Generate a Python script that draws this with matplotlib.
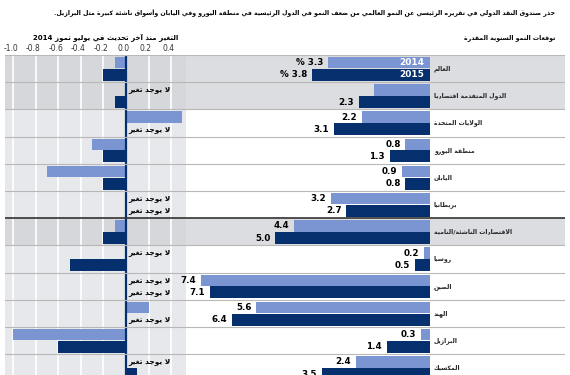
import re
import matplotlib
matplotlib.use('Agg')
import matplotlib.pyplot as plt

plt.rcParams['font.family'] = ['DejaVu Sans']

# data
categories = ['العالم', 'الدول المتقدمة اقتصاديا', 'الولايات المتحدة', 'منطقة اليورو',
              'اليابان', 'بريطانيا', 'الاقتصادات الناشئة/النامية', 'روسيا', 'الصين',
              'الهند', 'البرازيل', 'المكسيك']
growth_2014 = [3.3, 1.8, 2.2, 0.8, 0.9, 3.2, 4.4, 0.2, 7.4, 5.6, 0.3, 2.4]
growth_2015 = [3.8, 2.3, 3.1, 1.3, 0.8, 2.7, 5.0, 0.5, 7.1, 6.4, 1.4, 3.5]
change_2014 = [-0.1, 0.0, 0.5, -0.3, -0.7, 0.0, -0.1, 0.0, 0.0, 0.2, -1.0, 0.0]
change_2015 = [-0.2, -0.1, 0.0, -0.2, -0.2, 0.0, -0.2, -0.5, 0.0, 0.0, -0.6, 0.1]
show_label_2014 = [True, False, True, True, True, True, True, True, True, True, True, True]
gray_rows = [0, 1, 6]
change_ticks = [-1.0, -0.8, -0.6, -0.4, -0.2, 0.0, 0.2, 0.4]

title = ('حذر صندوق النقد الدولي في تقريره الرئيسي عن النمو العالمي من ضعف النمو '
         'في الدول الرئيسية في منطقة اليورو وفي اليابان وأسواق ناشئة كبيرة مثل البرازيل.')
right_header = 'توقعات النمو السنوية المقدرة'
left_header = 'التغير منذ آخر تحديث في يوليو تموز 2014'
no_change = 'لا يوجد تغير'

LIGHT = '#7a95d2'
DARK = '#062f6e'
ROW_GRAY = '#dcdde0'
PANEL_GRAY = '#e7e8eb'
PANEL_DARK = '#d6d7db'


# matplotlib has no arabic shaping, so do a small one by hand
LETTERS = 'ءآأؤإئابةتثجحخدذرزسشصضطظعغفقكلمنهوىي'
COUNTS = [1, 2, 2, 2, 2, 4, 2, 4, 2, 4, 4, 4, 4, 4, 2, 2, 2, 2, 4, 4,
          4, 4, 4, 4, 4, 4, 4, 4, 4, 4, 4, 4, 4, 2, 2, 4]
FORMS = {}
code = 0xFE80
for ch, n in zip(LETTERS, COUNTS):
    FORMS[ch] = [chr(code + k) for k in range(n)]
    code += n
LAM_ALEF = {'آ': 0xFEF5, 'أ': 0xFEF7, 'إ': 0xFEF9, 'ا': 0xFEFB}


def joins_next(c):
    return c in FORMS and len(FORMS[c]) == 4


def joins(c):
    return c in FORMS and len(FORMS[c]) > 1


def rtl(text):
    out = []
    i = 0
    while i < len(text):
        c = text[i]
        if c not in FORMS:
            out.append(c)
            i += 1
            continue
        prev = text[i - 1] if i > 0 else ''
        link_prev = joins_next(prev) and joins(c)
        if c == 'ل' and i + 1 < len(text) and text[i + 1] in LAM_ALEF:
            out.append(chr(LAM_ALEF[text[i + 1]] + (1 if link_prev else 0)))
            i += 2
            continue
        nxt = text[i + 1] if i + 1 < len(text) else ''
        link_next = joins_next(c) and joins(nxt)
        f = FORMS[c]
        if link_prev and link_next:
            out.append(f[3])
        elif link_prev:
            out.append(f[1])
        elif link_next:
            out.append(f[2])
        else:
            out.append(f[0])
        i += 1
    s = ''.join(out)[::-1]
    return re.sub(r'[0-9.]+', lambda m: m.group()[::-1], s)


W, H = 570, 375
fig = plt.figure(figsize=(W / 100, H / 100), dpi=100)
renderer = fig.canvas.get_renderer()


def fit(txt, width_px):
    # scale a text so that it takes the width it has in the reference
    w = txt.get_window_extent(renderer).width
    txt.set_fontsize(txt.get_fontsize() * width_px / w)
    return txt.get_fontsize()


top = 55
row_h = 27.2
n = len(categories)
ax_bottom = 1 - (top + row_h * n) / H
ax_height = row_h * n / H

ax_l = fig.add_axes([5 / W, ax_bottom, 181 / W, ax_height])
ax_r = fig.add_axes([186 / W, ax_bottom, 379 / W, ax_height])

rows = list(range(n))
y14 = [r + 0.28 for r in rows]
y15 = [r + 0.73 for r in rows]

# ---- left panel: change since July update
ax_l.set_facecolor(PANEL_GRAY)
ax_l.set_xlim(-1.075, 0.533)
ax_l.set_ylim(n, 0)
for r in gray_rows:
    ax_l.axhspan(r, r + 1, color=PANEL_DARK, lw=0, zorder=0)
for t in change_ticks:
    ax_l.axvline(t, color='white', lw=1.2, zorder=1)
ax_l.barh(y14, change_2014, height=0.42, color=LIGHT, zorder=2)
ax_l.barh(y15, change_2015, height=0.44, color=DARK, zorder=2)
ax_l.axvline(0, color=DARK, lw=1.6, zorder=3)

probe = ax_l.text(0, 0, rtl(no_change), fontsize=6, weight='bold')
nc_size = fit(probe, 42)
probe.remove()
for r in rows:
    for y, v in ((y14[r], change_2014[r]), (y15[r], change_2015[r])):
        if v == 0:
            ax_l.text(0.02, y, rtl(no_change), ha='left', va='center',
                      fontsize=nc_size, weight='bold', zorder=4)
ax_l.set_xticks([t - 0.025 for t in change_ticks])
ax_l.set_xticklabels(['%.1f' % t for t in change_ticks])
ax_l.xaxis.tick_top()
ax_l.tick_params(axis='x', length=0, pad=1.5, labelsize=5.5, colors='#333333')
ax_l.set_yticks([])
for s in ax_l.spines.values():
    s.set_visible(False)

# ---- right panel: growth projections
ax_r.set_facecolor('white')
ax_r.set_xlim(7.87, -4.35)
ax_r.set_ylim(n, 0)
for r in gray_rows:
    ax_r.axhspan(r, r + 1, color=ROW_GRAY, lw=0, zorder=0)
ax_r.barh(y14, growth_2014, height=0.42, color=LIGHT, zorder=2)
ax_r.barh(y15, growth_2015, height=0.44, color=DARK, zorder=2)

probe = ax_r.text(0, 0, rtl(categories[1]), fontsize=6, weight='bold')
cat_size = fit(probe, 72)
probe.remove()
for r in rows:
    pre = '% ' if r == 0 else ''
    if show_label_2014[r]:
        ax_r.text(growth_2014[r] + 0.15, y14[r], pre + '%.1f' % growth_2014[r],
                  ha='right', va='center', fontsize=6.3, weight='bold')
    ax_r.text(growth_2015[r] + 0.15, y15[r], pre + '%.1f' % growth_2015[r],
              ha='right', va='center', fontsize=6.3, weight='bold')
    ax_r.text(-0.12, r + 0.5, rtl(categories[r]), ha='left', va='center',
              fontsize=cat_size, weight='bold', color='#222222')
ax_r.text(0.18, y14[0], '2014', ha='right', va='center', fontsize=6.5,
          weight='bold', color='white')
ax_r.text(0.18, y15[0], '2015', ha='right', va='center', fontsize=6.5,
          weight='bold', color='white')
ax_r.set_xticks([])
ax_r.set_yticks([])
for s in ax_r.spines.values():
    s.set_visible(False)

# row separators across both panels
for ax in (ax_l, ax_r):
    for r in range(0, n):
        if r == 6:
            ax.axhline(r, color='#333333', lw=1.2, zorder=5)
        else:
            ax.axhline(r, color='#b8b8b8', lw=0.8, zorder=5)

t = fig.text(555 / W, 1 - 13 / H, rtl(title), ha='right', va='center',
             fontsize=6, weight='bold')
fit(t, 505)
t = fig.text(555 / W, 1 - 38 / H, rtl(right_header), ha='right', va='center',
             fontsize=6, weight='bold')
fit(t, 92)
t = fig.text(178 / W, 1 - 38 / H, rtl(left_header), ha='right', va='center',
             fontsize=6, weight='bold')
fit(t, 145)

fig.savefig('out.png', dpi=100)
